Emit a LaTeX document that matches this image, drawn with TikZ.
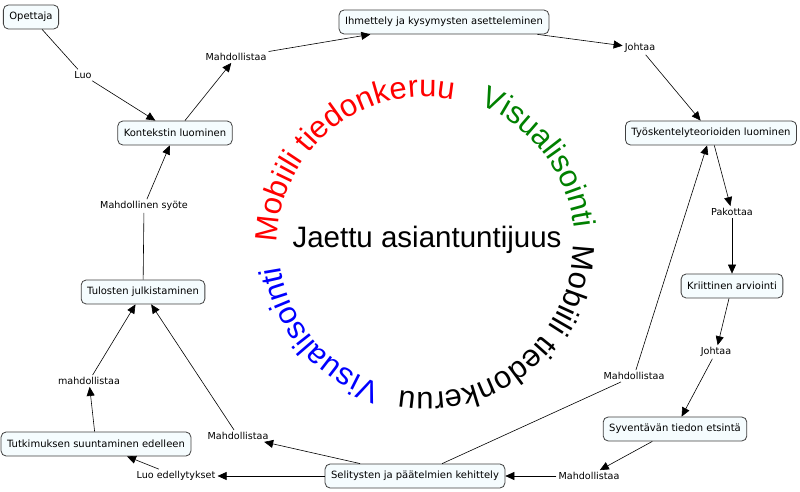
\documentclass[tikz,border=0pt]{standalone}
\usepackage{fontspec}
\setmainfont{DejaVu Sans}
\newfontfamily\arialf{Liberation Sans}
\usetikzlibrary{arrows.meta,decorations.text}
\begin{document}
\begin{tikzpicture}[x=1pt,y=1pt,
  box/.style={draw=black!75,rounded corners=5pt,fill=gray!8!cyan!4,font=\fontsize{10}{12}\selectfont,minimum height=24pt,inner xsep=6pt,line width=0.8pt},
  lab/.style={font=\fontsize{9.6}{11}\selectfont,fill=white,inner sep=2pt},
  ar/.style={-{Triangle[length=9pt,width=8pt]},line width=0.6pt},
  ln/.style={line width=0.6pt}]
\useasboundingbox (0,0) rectangle (800,492);
\node[box] (op) at (31,475) {Opettaja};
\node[box] (ih) at (444,470) {Ihmettely ja kysymysten asetteleminen};
\node[box] (ko) at (175,359) {Kontekstin luominen};
\node[box] (ty) at (711,359) {Työskentelyteorioiden luominen};
\node[box] (kr) at (732,206) {Kriittinen arviointi};
\node[box] (tu) at (143,200) {Tulosten julkistaminen};
\node[box] (sy) at (675,63) {Syventävän tiedon etsintä};
\node[box] (tk) at (96,48) {Tutkimuksen suuntaminen edelleen};
\node[box] (se) at (415,16) {Selitysten ja päätelmien kehittely};
\node[lab] (l1) at (83,417) {Luo};
\node[lab] (l2) at (236,435) {Mahdollistaa};
\node[lab] (l3) at (640,444) {Johtaa};
\node[lab] (l4) at (732,280) {Pakottaa};
\node[lab] (l5) at (716,140) {Johtaa};
\node[lab] (l6) at (589,16) {Mahdollistaa};
\node[lab] (l7) at (634,116) {Mahdollistaa};
\node[lab] (l8) at (238,56) {Mahdollistaa};
\node[lab] (l9) at (176,16) {Luo edellytykset};
\node[lab] (l10) at (89,111) {mahdollistaa};
\node[lab] (l11) at (144,286) {Mahdollinen syöte};
\draw[ln] (op) -- (l1); \draw[ar] (l1) -- (ko);
\draw[ar] (ko) -- (l2); \draw[ar] (l2) -- (ih);
\draw[ar] (ih) -- (l3); \draw[ar] (l3) -- (ty);
\draw[ar] (ty) -- (l4); \draw[ar] (l4) -- (kr);
\draw[ar] (kr) -- (l5); \draw[ar] (l5) -- (sy);
\draw[ar] (sy) -- (l6); \draw[ar] (l6) -- (se);
\draw[ln] (se) -- (l7); \draw[ar] (l7) -- (ty);
\draw[ar] (se) -- (l8); \draw[ar] (l8) -- (tu);
\draw[ar] (se) -- (l9); \draw[ar] (l9) -- (tk);
\draw[ar] (tk) -- (l10); \draw[ar] (l10) -- (tu);
\draw[ln] (tu) -- (l11); \draw[ar] (l11) -- (ko);
\node[font=\arialf\fontsize{29.5}{31}\selectfont] (ja) at (427,252) {Jaettu asiantuntijuus};
\coordinate (c) at (425,247);
\path[decorate,decoration={text along path,text align=center,text={|\arialf\fontsize{31}{32}\selectfont\color{red}|Mobiili tiedonkeruu}}]
  (c) ++(185:148) arc[start angle=185,end angle=73,radius=148];
\path[decorate,decoration={text along path,text align=center,text={|\arialf\fontsize{31}{32}\selectfont\color{green!50!black}|Visualisointi}}]
  (c) ++(75:150) arc[start angle=75,end angle=0,radius=150];
\path[decorate,decoration={text along path,text align=center,text={|\arialf\fontsize{31}{32}\selectfont\color{black}|Mobiili tiedonkeruu}}]
  (c) ++(5:148) arc[start angle=5,end angle=-105,radius=148];
\path[decorate,decoration={text along path,text align=center,text={|\arialf\fontsize{31}{32}\selectfont\color{blue}|Visualisointi}}]
  (c) ++(258:146) arc[start angle=258,end angle=183,radius=146];
\end{tikzpicture}
\end{document}
